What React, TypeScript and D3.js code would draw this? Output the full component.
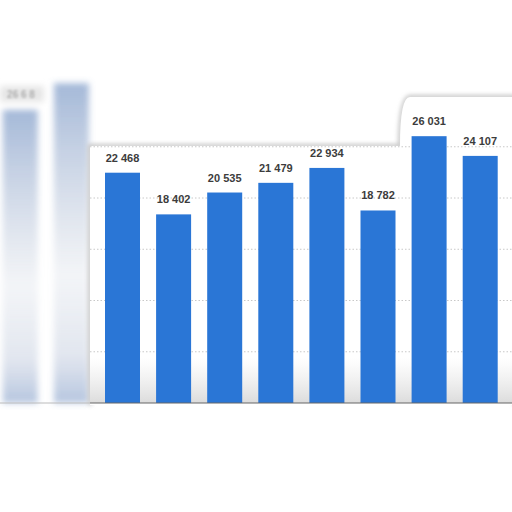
import React from "react";
import * as d3 from "d3";

const categories = ["c1", "c2", "c3", "c4", "c5", "c6", "c7", "c8", "c9", "c10"];
const ghostCount = 2;
const values = [28600, 31200, 22468, 18402, 20535, 21479, 22934, 18782, 26031, 24107];
const gridTicks = [5000, 10000, 15000, 20000, 25000];
const ghostLabel = "26 6 8";

const W = 512;
const H = 512;

const fmt = (v: number) => d3.format(",")(v).replace(/,/g, " ");

export default function App() {
  const x = d3
    .scaleBand<string>()
    .domain(categories)
    .range([-5.25, 505.75])
    .paddingInner(0.315)
    .paddingOuter(0.1575);
  const y = d3.scaleLinear().domain([0, 30000]).range([403, 95.5]);

  const base = y(0);
  const panelPath = `M90,${base + 2} L90,146 L400,146 Q400,97 410,97 L515,97 L515,${base + 2}`;

  const ghostBars = values.slice(0, ghostCount).map((v, i) => ({ v, c: categories[i] }));
  const bars = values.slice(ghostCount).map((v, i) => ({ v, c: categories[i + ghostCount] }));

  return (
    <svg
      width={W}
      height={H}
      viewBox={`0 0 ${W} ${H}`}
      style={{ position: "absolute", left: 0, top: 0, background: "#fff" }}
    >
      <defs>
        <filter id="blur3" x="-50%" y="-20%" width="200%" height="140%">
          <feGaussianBlur stdDeviation="3" />
        </filter>
        <filter id="blur1" x="-20%" y="-20%" width="140%" height="140%">
          <feGaussianBlur stdDeviation="0.8" />
        </filter>
        <filter id="blur2" x="-20%" y="-20%" width="140%" height="140%">
          <feGaussianBlur stdDeviation="2" />
        </filter>
        <linearGradient id="ghostGrad" x1="0" y1="0" x2="0" y2="1">
          <stop offset="0" stopColor="#5a7fb8" stopOpacity="0.55" />
          <stop offset="0.3" stopColor="#7d96bf" stopOpacity="0.35" />
          <stop offset="0.6" stopColor="#9aa8c0" stopOpacity="0.12" />
          <stop offset="0.85" stopColor="#8a9cc0" stopOpacity="0.25" />
          <stop offset="1" stopColor="#5a7fb8" stopOpacity="0.45" />
        </linearGradient>
        <linearGradient id="floorGrad" x1="0" y1="0" x2="0" y2="1">
          <stop offset="0" stopColor="#e4e4e4" stopOpacity="0" />
          <stop offset="1" stopColor="#d8d8d8" stopOpacity="0.9" />
        </linearGradient>
      </defs>

      {/* ghost bars on the left */}
      <g filter="url(#blur3)">
        {ghostBars.map((d) => (
          <rect
            key={d.c}
            x={x(d.c)}
            y={y(d.v)}
            width={x.bandwidth()}
            height={base - y(d.v)}
            fill="url(#ghostGrad)"
          />
        ))}
        <rect x={0} y={86} width={44} height={16} fill="#e6e6e6" />
      </g>
      <text
        x={21}
        y={98}
        textAnchor="middle"
        fontFamily="Liberation Sans, Arial, sans-serif"
        fontSize={10}
        fontWeight="bold"
        fill="#b0b0b0"
        filter="url(#blur1)"
      >
        {ghostLabel}
      </text>

      {/* panel shadow + fill */}
      <path d={panelPath} fill="none" stroke="#c4c4c4" strokeWidth={4} filter="url(#blur2)" />
      <path d={panelPath} fill="#fff" stroke="none" />
      <rect x={90} y={base - 45} width={W - 90} height={45} fill="url(#floorGrad)" />

      {/* grid */}
      {gridTicks.map((t) => (
        <line
          key={t}
          x1={90}
          x2={W}
          y1={y(t)}
          y2={y(t)}
          stroke="#c8c8c8"
          strokeWidth={1}
          strokeDasharray="1.5,2"
        />
      ))}

      {/* bars */}
      {bars.map((d) => (
        <rect
          key={d.c}
          x={x(d.c)}
          y={y(d.v)}
          width={x.bandwidth()}
          height={base - y(d.v)}
          fill="#2a76d6"
        />
      ))}

      {/* value labels */}
      {bars.map((d) => (
        <text
          key={"l" + d.c}
          x={(x(d.c) as number) + x.bandwidth() / 2}
          y={y(d.v) - 11}
          textAnchor="middle"
          fontFamily="Liberation Sans, Arial, sans-serif"
          fontSize={11}
          fontWeight="bold"
          fill="#3c3c3c"
        >
          {fmt(d.v)}
        </text>
      ))}

      {/* baseline */}
      <line x1={90} x2={W} y1={base + 3} y2={base + 3} stroke="#bbb" strokeWidth={3} filter="url(#blur2)" />
      <line x1={0} x2={90} y1={base} y2={base} stroke="#bbb" strokeWidth={1.2} />
      <line x1={90} x2={W} y1={base} y2={base} stroke="#666" strokeWidth={1.2} />
    </svg>
  );
}
